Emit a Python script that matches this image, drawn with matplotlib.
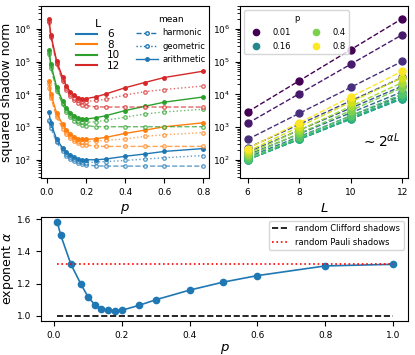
import numpy as np
import matplotlib.pyplot as plt
from matplotlib.lines import Line2D

# p values used in the top panels
p = [0.01, 0.02, 0.05, 0.08, 0.1, 0.12, 0.14, 0.16, 0.18, 0.2, 0.25, 0.3, 0.4, 0.5, 0.6, 0.8]
Ls = [6, 8, 10, 12]

# arithmetic / geometric / harmonic mean of squared shadow norm, per L
arith = {
    6: [2900, 1300, 420, 230, 170, 140, 120, 105, 100, 100, 100, 105, 128, 150, 180, 220],
    8: [25900, 10400, 2620, 1200, 800, 617, 511, 441, 419, 420, 438, 482, 639, 803, 1018, 1352],
    10: [232000, 83200, 16300, 6300, 3800, 2720, 2175, 1850, 1750, 1760, 1920, 2216, 3190, 4300, 5760, 8310],
    12: [2070000, 666000, 102000, 33100, 17900, 12000, 9260, 7770, 7350, 7400, 8390, 10190, 15900, 23000, 32600, 51100],
}
geo = {
    6: [1700, 1150, 380, 210, 150, 120, 105, 92, 86, 82, 85, 88, 95, 105, 115, 135],
    8: [20000, 9000, 2300, 1050, 700, 530, 440, 380, 360, 350, 380, 390, 430, 520, 580, 680],
    10: [200000, 75000, 14500, 5500, 3300, 2350, 1850, 1550, 1450, 1400, 1450, 1600, 2000, 2500, 2900, 3500],
    12: [1800000, 600000, 92000, 29000, 15500, 10300, 7900, 6500, 6100, 6000, 6500, 7000, 9500, 12000, 14000, 18000],
}
harm = {
    6: [1500, 950, 340, 185, 130, 105, 90, 80, 74, 70, 65, 64, 64, 64, 64, 64],
    8: [16000, 8000, 2000, 900, 600, 450, 370, 320, 290, 280, 260, 256, 256, 256, 256, 256],
    10: [170000, 65000, 13000, 5000, 2900, 2000, 1550, 1300, 1180, 1100, 1030, 1024, 1024, 1024, 1024, 1024],
    12: [1600000, 550000, 85000, 26000, 13500, 8800, 6600, 5300, 4800, 4500, 4150, 4096, 4096, 4096, 4096, 4096],
}

# exponent alpha vs p (bottom panel)
p_alpha = [0.01, 0.02, 0.05, 0.08, 0.1, 0.12, 0.14, 0.16, 0.18, 0.2, 0.25, 0.3, 0.4, 0.5, 0.6, 0.8, 1.0]
alpha = [1.58, 1.50, 1.32, 1.195, 1.12, 1.07, 1.045, 1.035, 1.033, 1.035, 1.065, 1.10, 1.16, 1.21, 1.25, 1.31, 1.32]
clifford = 1.0
pauli = 1.32

legend_p = [0.01, 0.16, 0.4, 0.8]

fig = plt.figure(figsize=(4.15, 3.55), dpi=100)
ax1 = fig.add_axes([0.099, 0.499, 0.405, 0.484])
ax2 = fig.add_axes([0.578, 0.499, 0.405, 0.484])
ax3 = fig.add_axes([0.099, 0.096, 0.884, 0.293])

cols = ['C0', 'C1', 'C2', 'C3']
for L, c in zip(Ls, cols):
    ax1.plot(p, harm[L], '--o', color=c, ms=2.5, lw=1, mfc='white', alpha=0.7)
    ax1.plot(p, geo[L], ':o', color=c, ms=2.5, lw=1, mfc='white', alpha=0.7)
    ax1.plot(p, arith[L], '-o', color=c, ms=2.5, lw=1)
ax1.set_yscale('log')
ax1.set_ylim(28, 5e6)
ax1.set_xlim(-0.03, 0.83)
ax1.set_xticks([0, 0.2, 0.4, 0.6, 0.8])
ax1.set_xlabel('$p$', fontsize=9.5)
ax1.set_ylabel('squared shadow norm', fontsize=9)
ax1.yaxis.set_label_coords(-0.165, 0.5)
ax1.tick_params(labelsize=6.5)

hL = [Line2D([], [], color=c, lw=1.5) for c in cols]
leg1 = ax1.legend(hL, [str(L) for L in Ls], title='L', fontsize=7.5, title_fontsize=8,
                  frameon=False, loc='upper left', bbox_to_anchor=(0.15, 0.98),
                  handlelength=2.0, labelspacing=0.05, handletextpad=1.0)
ax1.add_artist(leg1)
hM = [Line2D([], [], color='C0', ls='--', marker='o', ms=2.5, mfc='white', lw=1),
      Line2D([], [], color='C0', ls=':', marker='o', ms=2.5, mfc='white', lw=1),
      Line2D([], [], color='C0', ls='-', marker='o', ms=2.5, lw=1)]
ax1.legend(hM, ['harmonic', 'geometric', 'arithmetic'], title='mean', fontsize=6,
           title_fontsize=6.5, frameon=False, loc='upper left', bbox_to_anchor=(0.52, 0.99),
           handlelength=2.6, labelspacing=0.5, handletextpad=0.6)

# right panel: scaling with L
cmap = plt.get_cmap('viridis')
Larr = np.array(Ls)
for i, pv in enumerate(p):
    c = cmap(i / (len(p) - 1))
    vals = np.array([arith[L][i] for L in Ls])
    k, b = np.polyfit(Larr, np.log(vals), 1)
    ax2.plot(Larr, np.exp(k * Larr + b), '--', color=c, lw=1)
    lab = str(pv) if pv in legend_p else None
    ax2.plot(Larr, vals, 'o', color=c, ms=5, label=lab, ls='none')
ax2.set_yscale('log')
ax2.set_ylim(28, 5e6)
ax2.set_xlim(5.7, 12.22)
ax2.set_xticks([6, 8, 10, 12])
ax2.set_xlabel('$L$', fontsize=9.5)
ax2.tick_params(labelsize=6.5)
ax2.legend(title='p', ncol=2, fontsize=6, title_fontsize=6, loc='upper left',
           handletextpad=1.0, columnspacing=2.0, labelspacing=0.6, markerscale=0.9)
ax2.text(10.4, 2.5e2, r'$\sim 2^{\alpha L}$', fontsize=10)

# bottom panel: exponent
ax3.plot(p_alpha, alpha, '-o', color='C0', ms=4.5, lw=1.2)
ax3.plot([p_alpha[0], p_alpha[-1]], [clifford, clifford], '--', color='black', lw=1.2,
         label='random Clifford shadows')
ax3.plot([p_alpha[0], p_alpha[-1]], [pauli, pauli], ':', color='red', lw=1.2,
         label='random Pauli shadows')
ax3.set_ylim(0.969, 1.614)
ax3.set_xlim(-0.038, 1.044)
ax3.set_xticks([0, 0.2, 0.4, 0.6, 0.8, 1.0])
ax3.set_yticks([1.0, 1.2, 1.4, 1.6])
ax3.set_xlabel('$p$', fontsize=9.5, labelpad=2)
ax3.set_ylabel(r'exponent $\alpha$', fontsize=9)
ax3.yaxis.set_label_coords(-0.068, 0.5)
ax3.tick_params(labelsize=6.5)
ax3.legend(fontsize=6, loc='upper right', handlelength=2.0)

fig.savefig('out.png', dpi=100)
